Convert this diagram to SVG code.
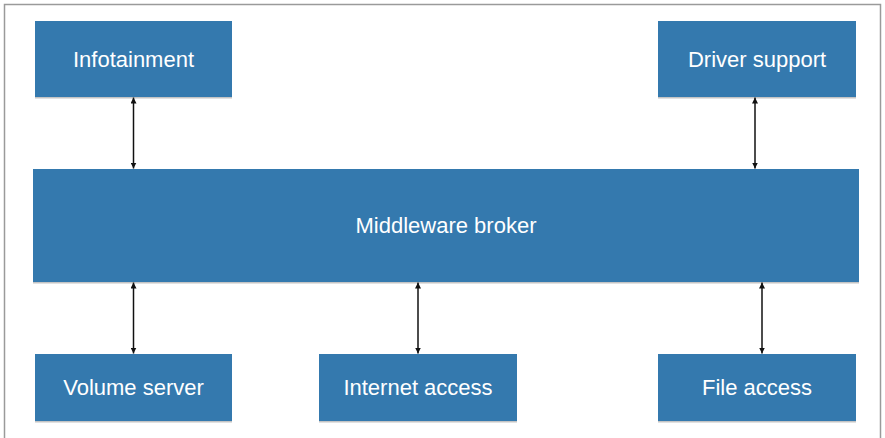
<svg xmlns="http://www.w3.org/2000/svg" width="885" height="438" viewBox="0 0 885 438">
<style>
.box{fill:#3479ae;}
.shadow{fill:#8a8a8a;opacity:0.5;}
.lbl{font-family:"Liberation Sans",Arial,sans-serif;font-size:22px;fill:#ffffff;text-anchor:middle;}
.conn{stroke:#111111;stroke-width:1.5;fill:none;marker-start:url(#ah);marker-end:url(#ah);}
.frame{stroke:#9a9a9a;stroke-width:1.5;fill:none;}
</style>
<defs>
<marker id="ah" viewBox="0 0 10 10" refX="10" refY="5" markerWidth="6" markerHeight="6" orient="auto-start-reverse" markerUnits="userSpaceOnUse">
<path d="M0,0 L10,5 L0,10 z" fill="#111111"/>
</marker>
</defs>
<rect width="885" height="438" fill="#ffffff"/>
<path class="frame" d="M4.5,438 V4.5 H880.5 V438"/>
<g id="infotainment">
<rect class="shadow" x="35" y="22.5" width="197" height="76"/>
<rect class="box" x="35" y="21" width="197" height="76"/>
<text class="lbl" x="133.5" y="67">Infotainment</text>
</g>
<g id="driver-support">
<rect class="shadow" x="658" y="22.5" width="198" height="76"/>
<rect class="box" x="658" y="21" width="198" height="76"/>
<text class="lbl" x="757" y="67">Driver support</text>
</g>
<g id="middleware-broker">
<rect class="shadow" x="33" y="170.5" width="826" height="113"/>
<rect class="box" x="33" y="169" width="826" height="113"/>
<text class="lbl" x="446" y="233">Middleware broker</text>
</g>
<g id="volume-server">
<rect class="shadow" x="35" y="355.5" width="197" height="67"/>
<rect class="box" x="35" y="354" width="197" height="67"/>
<text class="lbl" x="133.5" y="395">Volume server</text>
</g>
<g id="internet-access">
<rect class="shadow" x="319" y="355.5" width="198" height="67"/>
<rect class="box" x="319" y="354" width="198" height="67"/>
<text class="lbl" x="418" y="395">Internet access</text>
</g>
<g id="file-access">
<rect class="shadow" x="658" y="355.5" width="198" height="67"/>
<rect class="box" x="658" y="354" width="198" height="67"/>
<text class="lbl" x="757" y="395">File access</text>
</g>
<g id="connectors">
<line class="conn" x1="133.5" y1="97.5" x2="133.5" y2="168.5"/>
<line class="conn" x1="755" y1="97.5" x2="755" y2="168.5"/>
<line class="conn" x1="133.5" y1="282.5" x2="133.5" y2="353.5"/>
<line class="conn" x1="418" y1="282.5" x2="418" y2="353.5"/>
<line class="conn" x1="762" y1="282.5" x2="762" y2="353.5"/>
</g>
</svg>
